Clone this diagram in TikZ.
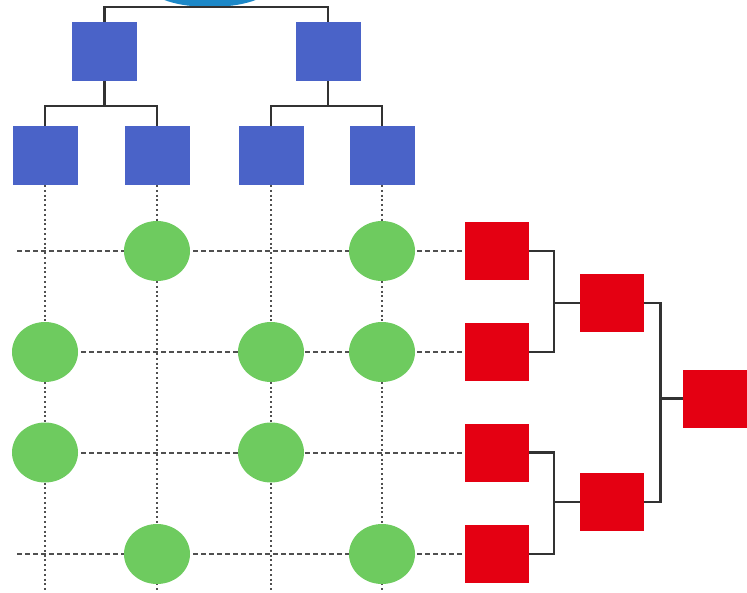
\documentclass[tikz,border=0pt]{standalone}
\usepackage{tikz}
\usetikzlibrary{shapes.geometric}

\definecolor{rootblue}{RGB}{28,136,200}
\definecolor{boxblue}{RGB}{74,99,200}
\definecolor{boxred}{RGB}{228,0,18}
\definecolor{dotgreen}{RGB}{110,203,95}
\definecolor{linegray}{RGB}{50,50,50}
\definecolor{gridgray}{RGB}{80,80,80}

\begin{document}
\begin{tikzpicture}[x=1pt, y=-1pt, every node/.style={inner sep=0pt, outer sep=0pt},
                    bluebox/.style={rectangle, fill=boxblue, minimum width=65pt, minimum height=59pt},
                    redbox/.style={rectangle, fill=boxred, minimum width=64pt, minimum height=58pt},
                    dot/.style={ellipse, fill=dotgreen, minimum width=66pt, minimum height=60pt},
                    link/.style={draw=linegray, line width=2.2pt},
                    gridv/.style={draw=gridgray, line width=2.2pt, dash pattern=on 2pt off 2.8pt},
                    gridh/.style={draw=gridgray, line width=2pt, dash pattern=on 4.5pt off 3.5pt}]

\clip (0,0) rectangle (747,592);

\node[ellipse, fill=rootblue, minimum width=120pt, minimum height=40pt] (root) at (210,-13) {};
\node[bluebox] (b1) at (104.5,51.5) {};
\node[bluebox] (b2) at (328,51.5) {};
\node[bluebox] (b11) at (45,155.5) {};
\node[bluebox] (b12) at (157,155.5) {};
\node[bluebox] (b21) at (271,155.5) {};
\node[bluebox] (b22) at (382,155.5) {};

\node[redbox] (r1) at (497,251) {};
\node[redbox] (r2) at (497,352) {};
\node[redbox] (r3) at (497,452.5) {};
\node[redbox] (r4) at (497,554) {};
\node[redbox] (r12) at (611.5,303) {};
\node[redbox] (r34) at (611.5,502) {};
\node[redbox] (rr) at (715,398.5) {};

\coordinate (left) at (17,0);
\coordinate (bottom) at (0,600);

\foreach \b in {b11,b12,b21,b22}
  \draw[gridv] (\b.south) -- (\b.south |- bottom);
\foreach \r in {r1,r2,r3,r4}
  \draw[gridh] (\r.west -| left) -- (\r.west);

\node[dot] (g12) at (b12 |- r1) {};
\node[dot] (g14) at (b22 |- r1) {};
\node[dot] (g21) at (b11 |- r2) {};
\node[dot] (g23) at (b21 |- r2) {};
\node[dot] (g24) at (b22 |- r2) {};
\node[dot] (g31) at (b11 |- r3) {};
\node[dot] (g33) at (b21 |- r3) {};
\node[dot] (g42) at (b12 |- r4) {};
\node[dot] (g44) at (b22 |- r4) {};

\draw[link] (root.south) -| (b1.north);
\draw[link] (root.south) -| (b2.north);
\foreach \p/\c in {b1/b11, b1/b12, b2/b21, b2/b22}
  \draw[link] (\p.south) -- ++(0,25) -| (\c.north);
\foreach \c/\p in {r1/r12, r2/r12, r3/r34, r4/r34}
  \draw[link] (\c.east) -- ++(25,0) |- (\p.west);
\foreach \c in {r12,r34}
  \draw[link] (\c.east) -- ++(17,0) |- (rr.west);
\end{tikzpicture}
\end{document}
